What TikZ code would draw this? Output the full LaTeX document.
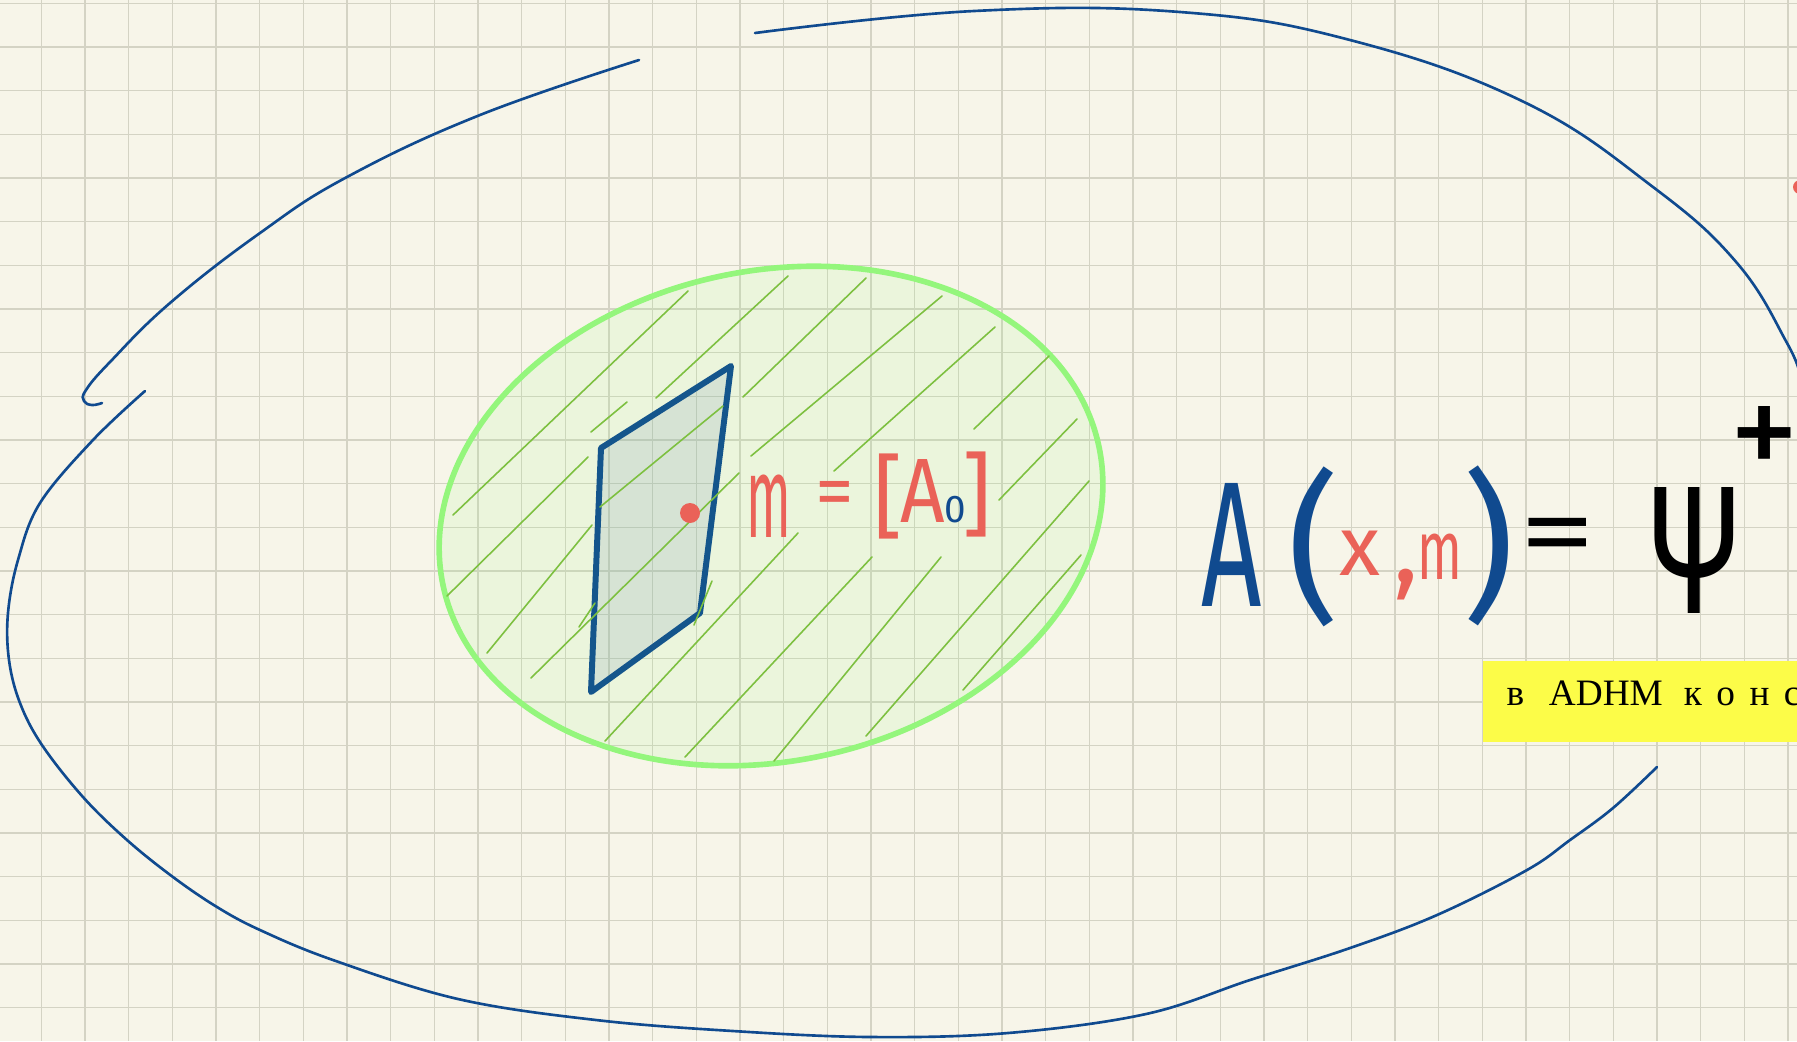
\documentclass[tikz,border=0pt]{standalone}
\usepackage{fontspec}
\usepackage{graphicx}
\setmainfont{Liberation Serif}
\newfontfamily\handfont{Fira Sans}
\definecolor{paper}{RGB}{247,245,233}
\definecolor{gridgray}{RGB}{212,211,196}
\definecolor{penblue}{RGB}{16,74,143}
\definecolor{ringgreen}{RGB}{148,246,124}
\definecolor{ringfill}{RGB}{150,245,130}
\definecolor{hatchgreen}{RGB}{125,192,64}
\definecolor{sheetblue}{RGB}{20,85,140}
\definecolor{sheetfill}{RGB}{120,150,180}
\definecolor{inkred}{RGB}{234,98,88}
\definecolor{tagyellow}{RGB}{252,252,72}
\begin{document}
\begin{tikzpicture}[
  x=0.01cm, y=-0.01cm,
  gridline/.style={draw=gridgray, line width=0.4pt},
  pen/.style={draw=penblue, line width=0.75pt, line cap=round, line join=round},
  ring/.style={draw=ringgreen, line width=1.6pt, fill=ringfill, fill opacity=0.12},
  hatch/.style={draw=hatchgreen, line width=0.45pt, line cap=round},
  sheet/.style={draw=sheetblue, line width=1.7pt, line join=round,
                fill=sheetfill, fill opacity=0.18},
  hand/.style={inner sep=0pt, font=\handfont\fontsize{#1pt}{#1pt}\selectfont},
  tag/.style={fill=tagyellow, anchor=west, inner xsep=0.24cm, inner ysep=0pt,
              text width=3.6cm, align=left, text height=7.1pt, text depth=5.1pt,
              minimum height=0.81cm, font=\fontsize{10.6pt}{12pt}\selectfont},
]
  \useasboundingbox (0,0) rectangle (1797,1041);
  \fill[paper] (0,0) rectangle (1797,1041);

  % squared paper
  \foreach \i in {0,...,40}
    \draw[gridline] ({41.3+43.67*\i},0) -- ++(0,1041);
  \foreach \j in {0,...,23}
    \draw[gridline] (0,{3.3+43.67*\j}) -- ++(1797,0);

  % outer strokes
  \draw[pen] plot[smooth, tension=0.7] coordinates {(639,60) (480,115) (347,177)
    (260,233) (170,303) (110,362) (86,390) (84,401) (92,405) (102,403)};
  \draw[pen] plot[smooth, tension=0.6] coordinates {(145,391) (93,440) (40,503)
    (18,560) (8,613) (9,660) (20,703) (42,745) (83,797) (127,840) (173,877)
    (217,907) (260,930) (333,960) (458,999) (596,1020) (733,1031) (871,1037)
    (1008,1033) (1146,1014) (1250,980) (1350,948) (1437,915) (1527,870)
    (1570,840) (1613,808) (1657,767)};
  \draw[pen] plot[smooth, tension=0.7] coordinates {(755,33) (974,11) (1180,12)
    (1350,40) (1524,102) (1653,187) (1737,263) (1787,343) (1800,375)};
  \fill[inkred] (1800,187) circle (0.7mm);

  % moduli disc
  \coordinate (disc) at (771,516);
  \draw[ring, rotate around={12:(disc)}] (disc) ellipse [x radius=3.35cm, y radius=2.45cm];
  \draw[sheet] (601,448) -- (731,366) -- (700,613) -- (591,692) -- cycle;
  \foreach \xa/\ya/\xb/\yb in {453/515/688/291, 656/398/788/276, 743/397/866/278,
      751/456/942/296, 834/471/995/327, 974/429/1049/356, 999/500/1077/419,
      447/596/588/457, 487/653/592/525, 531/678/739/473, 605/741/798/533,
      685/757/872/557, 774/761/941/557, 866/736/1089/481, 963/690/1081/555,
      591/432/627/402, 600/507/723/406, 694/625/712/581, 579/627/595/603}
    \draw[hatch] (\xa,\ya) -- (\xb,\yb);
  \fill[inkred] (690,513) circle (1mm);

  % m = [A_0]
  \node[hand=33, text=inkred] (mm) at (769,506) {\scalebox{0.45}[1]{m}};
  \node[hand=22, text=inkred] (meq) at (835,499) {=};
  \node[hand=26, text=inkred] (lbr) at (888,496) {[};
  \node[hand=26, text=inkred] (mA) at (923,491) {\scalebox{0.85}[1]{A}};
  \node[hand=11, text=penblue] (zero) at (955,510) {0};
  \node[hand=26, text=inkred] (rbr) at (977,494) {]};

  % A(x, m) = Psi^+
  \node[hand=50.8, text=penblue] (bigA) at (1232,545) {\scalebox{0.59}[1]{A}};
  \node[hand=46, text=penblue] (lpar) at (1314,547) {(};
  \node[hand=24, text=inkred] (argx) at (1360,553) {x};
  \node[hand=30, text=inkred] (comma) at (1406,585) {,};
  \node[hand=24, text=inkred] (argm) at (1440,557) {\scalebox{0.62}[1]{m}};
  \node[hand=46, text=penblue] (rpar) at (1489,546) {)};
  \node[hand=30] (eq) at (1558,543) {\scalebox{1.45}[1]{=}};
  \node[hand=52] (psi) at (1694,550) {\scalebox{0.69}[1]{Ψ}};
  \node[hand=40] (dag) at (1765,443) {+};

  \node[tag] (adhm) at (1482,701.5)
    {\spaceskip=4.1pt в\hspace{7pt}ADHM\hspace{6pt}к о н с};
\end{tikzpicture}
\end{document}
